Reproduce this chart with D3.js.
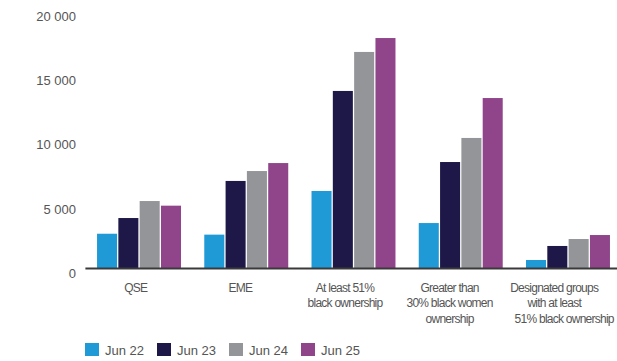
<!DOCTYPE html>
<html>
<head>
<meta charset="utf-8">
<script src="https://cdn.jsdelivr.net/npm/d3@7"></script>
<style>
  html, body { margin: 0; padding: 0; background: #fff; }
  svg { display: block; font-family: "Liberation Sans", Arial, sans-serif; }
</style>
</head>
<body>
<svg id="chart" width="617" height="361"></svg>
<script>
// Categories (each entry is the list of label lines) and series values
const categories = ["QSE", "EME", "At least 51%", "Greater than", "Designated groups"];
const categoryLines = [
  ["QSE"],
  ["EME"],
  ["At least 51%", "black ownership"],
  ["Greater than", "30% black women", "ownership"],
  ["Designated groups", "with at least", "51% black ownership"]
];
const seriesNames = ["Jun 22", "Jun 23", "Jun 24", "Jun 25"];
const jun22 = [2700, 2630, 6020, 3530, 660];
const jun23 = [3920, 6800, 13790, 8270, 1750];
const jun24 = [5240, 7570, 16820, 10140, 2290];
const jun25 = [4880, 8190, 17900, 13240, 2600];
const yTicks = [0, 5000, 10000, 15000, 20000];
const colors = ["#1f9ad6", "#1d1847", "#939598", "#90458b"];

const seriesValues = [jun22, jun23, jun24, jun25];
const rows = categories.map((c, i) => ({
  cat: c,
  values: seriesNames.map((s, j) => ({ key: s, value: seriesValues[j][i] }))
}));

const svg = d3.select("#chart");

const x0 = d3.scaleBand().domain(categories).range([85.4, 621.6])
  .paddingInner(0.217).paddingOuter(0.1085);
const x1 = d3.scaleBand().domain(seriesNames).range([0, x0.bandwidth()])
  .paddingInner(0.06);
const y = d3.scaleLinear().domain([0, 20000]).range([268.5, 11]);
const color = d3.scaleOrdinal().domain(seriesNames).range(colors);
// category labels sit on a slightly tighter pitch than the bar groups
const xLabel = d3.scaleBand().domain(categories).range([83.5, 606.5]);

// Y axis labels (no axis line, no ticks)
const fmt = v => d3.format(",")(v).replace(/,/g, " ");
const yAxis = d3.axisLeft(y).tickValues(yTicks).tickSize(0).tickPadding(0).tickFormat(fmt);
const yg = svg.append("g").attr("transform", "translate(76,0)").call(yAxis);
yg.select(".domain").remove();
yg.selectAll("text")
  .attr("dy", null)
  .attr("y", 9)
  .attr("font-size", 13)
  .attr("font-family", "Liberation Sans, Arial, sans-serif")
  .attr("fill", "#555");

// Bars
const groups = svg.append("g").selectAll("g")
  .data(rows).join("g")
  .attr("transform", d => `translate(${x0(d.cat)},0)`);
groups.selectAll("rect")
  .data(d => d.values).join("rect")
  .attr("x", d => x1(d.key))
  .attr("y", d => y(d.value))
  .attr("width", x1.bandwidth())
  .attr("height", d => y(0) - y(d.value))
  .attr("fill", d => color(d.key));

// Baseline
svg.append("line")
  .attr("x1", x0.range()[0]).attr("x2", x0.range()[1])
  .attr("y1", y(0)).attr("y2", y(0))
  .attr("stroke", "#3a3a3a").attr("stroke-width", 2);

// Category labels; the last line of the final label is set a little to the right
const lastLineNudge = 10;
const labels = svg.append("g").selectAll("text")
  .data(categories).join("text")
  .attr("x", c => xLabel(c) + xLabel.bandwidth() / 2)
  .attr("y", 292)
  .attr("text-anchor", "middle")
  .attr("font-size", 12)
  .attr("letter-spacing", "-0.75px")
  .attr("fill", "#555");
labels.selectAll("tspan")
  .data((c, i) => categoryLines[i].map((t, k) => ({ t, k, n: categoryLines[i].length, ci: i })))
  .join("tspan")
  .attr("x", function (d) {
    const base = +d3.select(this.parentNode).attr("x");
    return d.ci === categories.length - 1 && d.k === d.n - 1 ? base + lastLineNudge : base;
  })
  .attr("dy", d => d.k === 0 ? 0 : 15.3)
  .text(d => d.t);

// Legend
const legend = svg.append("g").selectAll("g")
  .data(seriesNames).join("g")
  .attr("transform", (d, i) => `translate(${85 + i * 72},343)`);
legend.append("rect")
  .attr("width", 14).attr("height", 13)
  .attr("fill", d => color(d));
legend.append("text")
  .attr("x", 20).attr("y", 11.5)
  .attr("font-size", 13)
  .attr("fill", "#555")
  .text(d => d);
</script>
</body>
</html>
